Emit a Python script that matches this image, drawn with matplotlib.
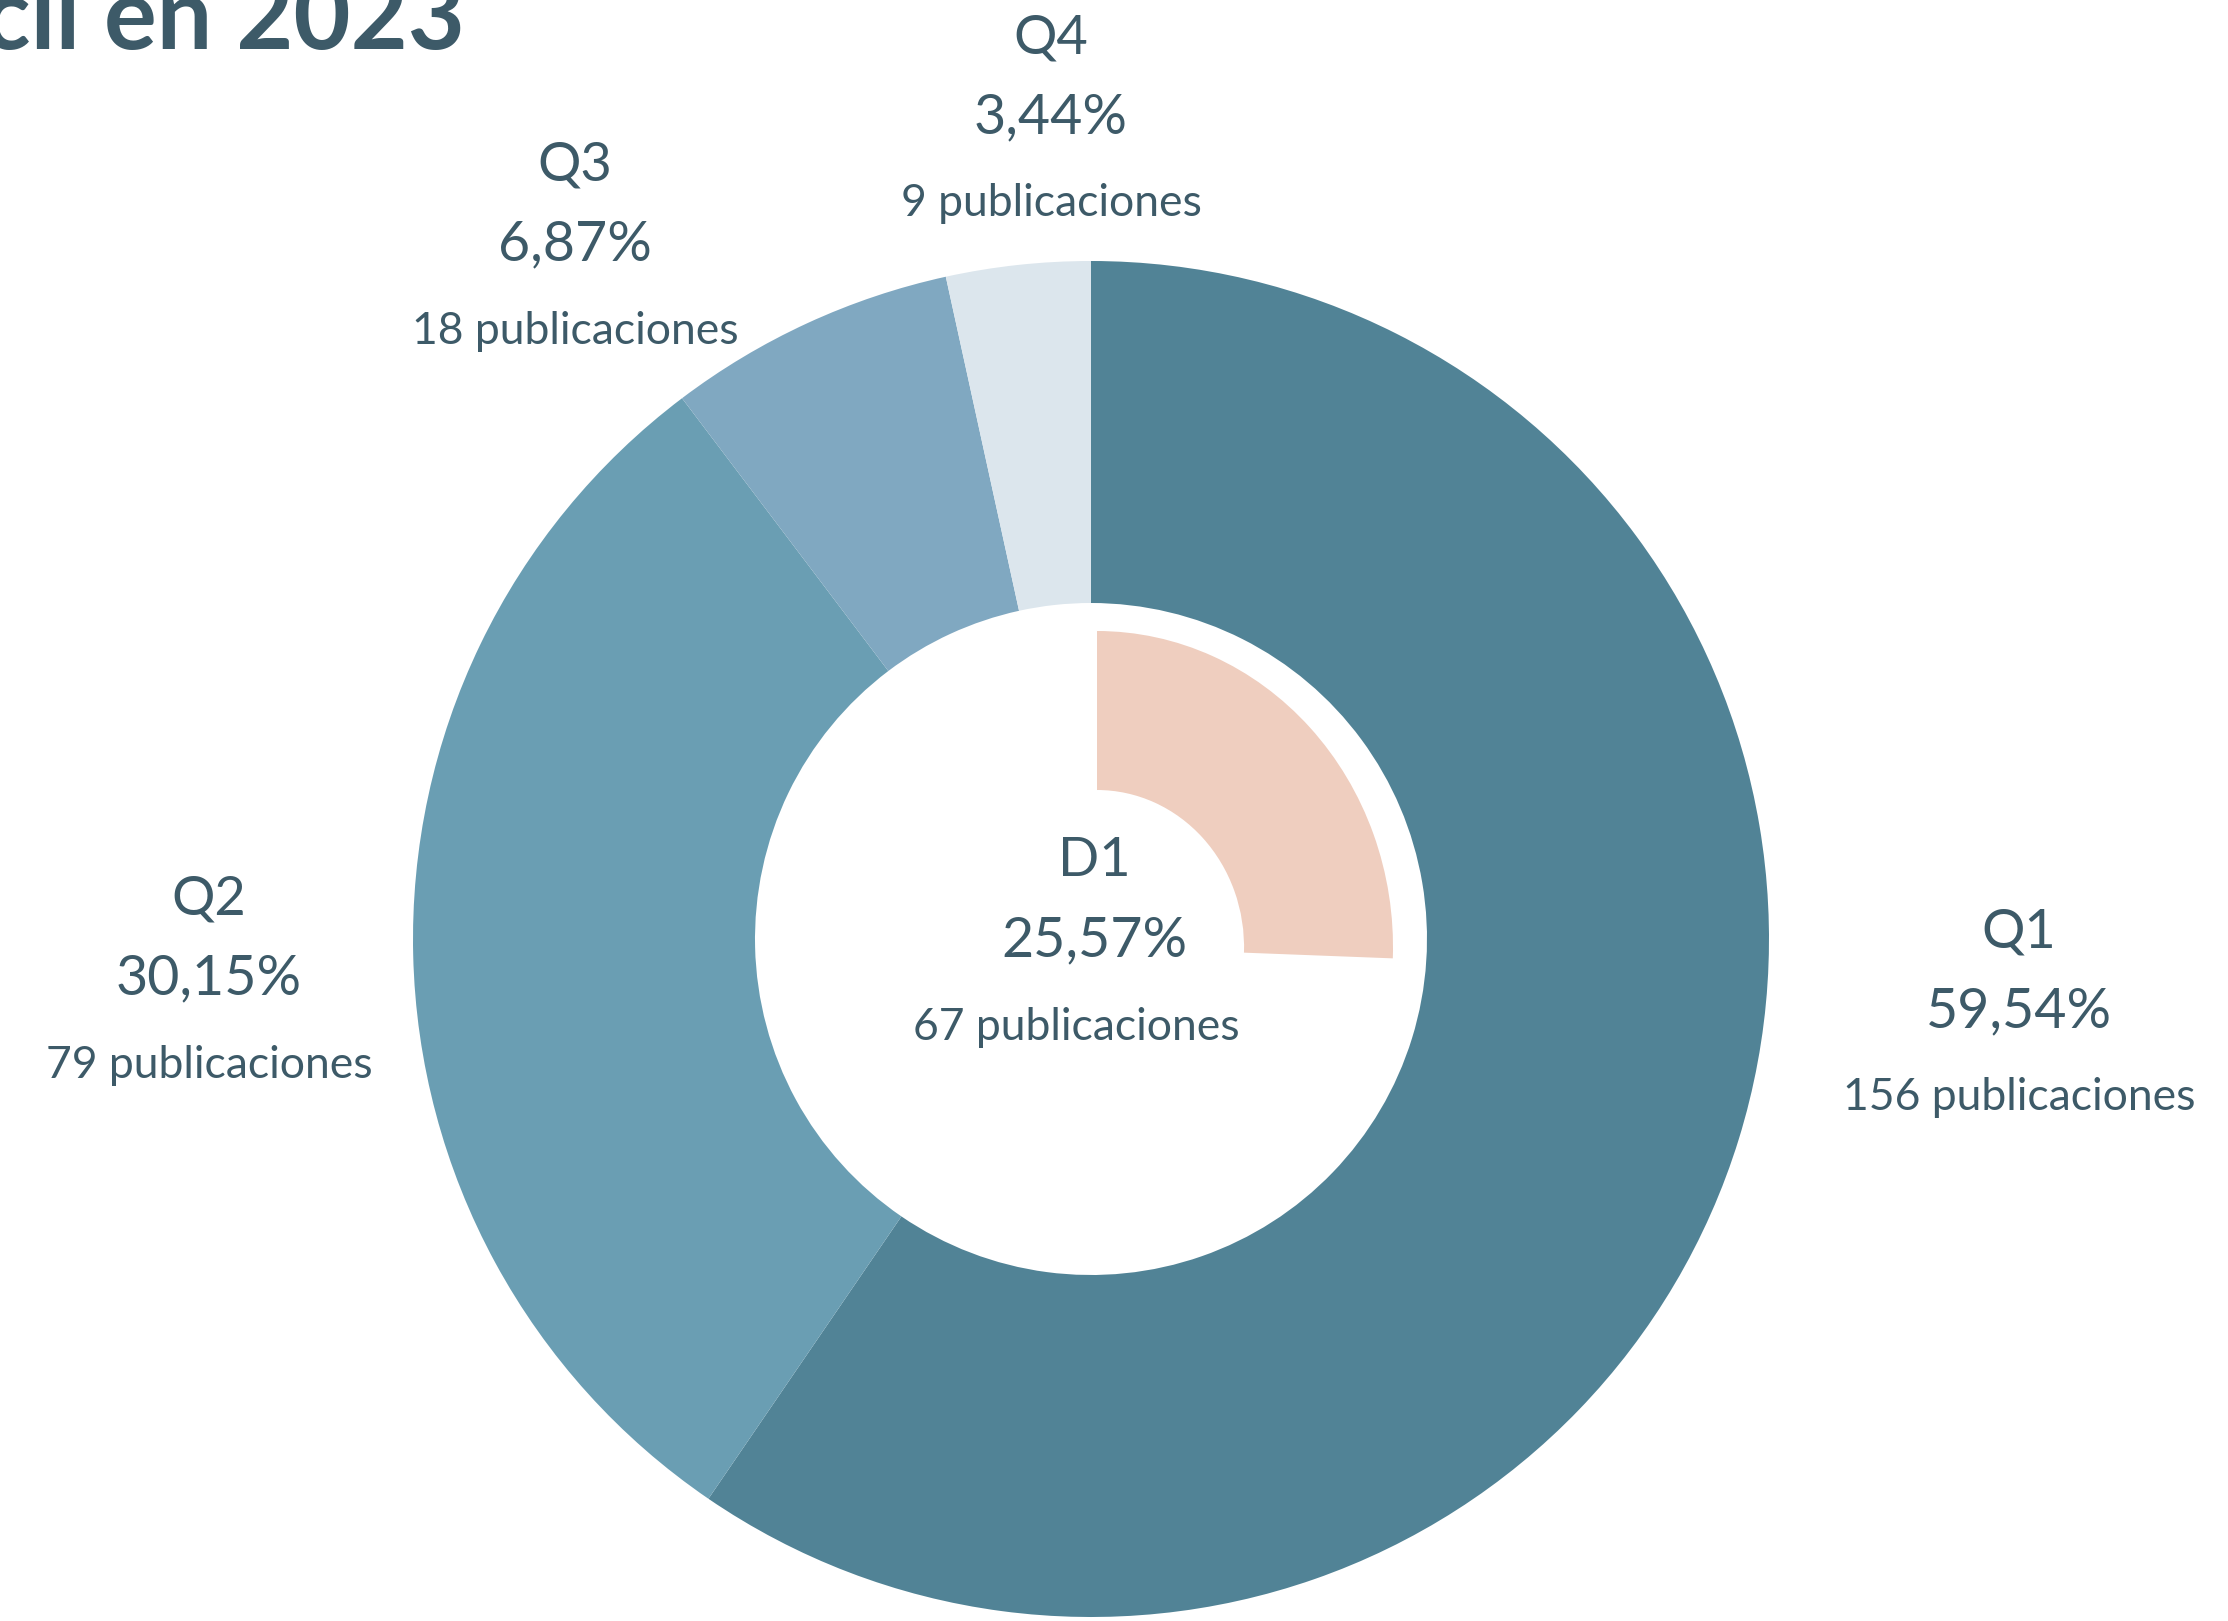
import matplotlib
matplotlib.use("Agg")
import matplotlib.pyplot as plt

# Distribution of publications by quartile (outer ring) and D1 decile (inner wedge)
quartiles = ["Q1", "Q2", "Q3", "Q4"]
counts = [156, 79, 18, 9]
pct_labels = ["59,54%", "30,15%", "6,87%", "3,44%"]
d1_count = 67
d1_pct = "25,57%"
total = sum(counts)

ring_colors = ["#518396", "#6a9eb3", "#80a8c1", "#dce6ed"]
d1_color = "#efcebf"
text_color = "#3d5a68"

W, H = 2228, 1621
fig = plt.figure(figsize=(W / 100, H / 100), dpi=100)
ax = fig.add_axes([0, 0, 1, 1])

# outer ring, clockwise from 12 o'clock
ax.pie(counts, colors=ring_colors, startangle=90, counterclock=False,
       center=(1091, H - 939), radius=678,
       wedgeprops=dict(width=342, linewidth=0), frame=True)
ax.set_xlim(0, W)
ax.set_ylim(0, H)
ax.set_aspect("equal")
ax.axis("off")

# inner D1 wedge (share of total publications), slightly squeezed horizontally
sx = 296 / 316
ax2 = fig.add_axes([0, 0, 1, 1])
ax2.pie([d1_count, total - d1_count], colors=[d1_color, "none"], startangle=90,
        counterclock=False, center=(1097 / sx, H - 947), radius=316,
        wedgeprops=dict(width=159, linewidth=0), frame=True)
ax2.set_xlim(0, W / sx)
ax2.set_ylim(0, H)
ax2.set_aspect("auto")
ax2.axis("off")

# label positions (pixel coords, top-left origin)
label_pos = {"Q1": (2019, 932), "Q2": (209, 899), "Q3": (575, 165), "Q4": (1051, 38)}
font = "Lato"

for q, n, p in zip(quartiles, counts, pct_labels):
    x, y = label_pos[q]
    ax.text(x, H - y, q, ha="center", va="center", fontsize=39,
            color=text_color, family=font)
    ax.text(x, H - y - 80, p, ha="center", va="center", fontsize=40,
            color=text_color, family=font)
    ax.text(x, H - y - 166, f"{n} publicaciones", ha="center", va="center",
            fontsize=32, color=text_color, family=font)

ax.text(1094, H - 861, "D1", ha="center", va="center", fontsize=39,
        color=text_color, family=font)
ax.text(1094, H - 941, d1_pct, ha="center", va="center", fontsize=40,
        color=text_color, family=font)
ax.text(1076, H - 1027, f"{d1_count} publicaciones", ha="center", va="center",
        fontsize=32, color=text_color, family=font)

# title, cropped at the top-left edge of the image (as in the source)
ax.text(465, H - 49, "cil en 2023", ha="right", va="baseline", fontsize=71,
        fontweight="bold", color=text_color, family=font)

fig.savefig("out.png", dpi=100)
